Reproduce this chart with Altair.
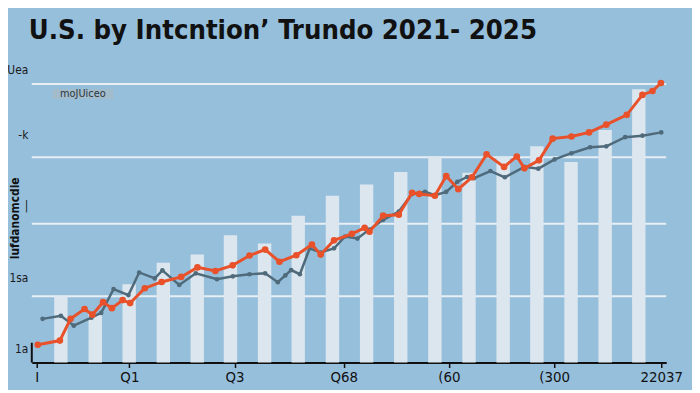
import altair as alt
import pandas as pd

TITLE = "U.S. by Intcntion\u2019 Trundo 2021- 2025"
Y_TITLE = "lufdanomcdie"
LEGEND_TEXT = "moJUiceo"

x_tick_values = [0, 8.9, 19.0, 29.5, 39.6, 49.7, 60]
x_tick_labels = ["I", "Q1", "Q3", "Q68", "(60", "(300", "22037"]
y_tick_values = [4.7, 28.7, 53.0, 76.7, 98.7]
y_tick_labels = ["1a", "1sa", "|", "-k", "Uea"]
grid_values = [22.3, 46.7, 69.0, 93.7]

bar_x = [2.32, 5.62, 8.88, 12.16, 15.42, 18.61, 21.89, 25.12, 28.41,
         31.69, 34.97, 38.25, 41.53, 44.81, 48.05, 51.33, 54.61, 57.84]
bar_y = [22.3, 16.3, 26.3, 33.6, 36.3, 42.8, 40.0, 49.4, 56.1,
         59.9, 64.1, 69.3, 63.8, 69.1, 72.7, 67.4, 78.2, 91.9]

orange_x = [0.1, 2.22, 3.25, 4.59, 5.34, 6.37, 7.22, 8.25, 8.97, 10.38, 12.0,
            13.87, 15.44, 17.16, 18.82, 20.44, 21.94, 23.32, 24.94, 26.44,
            27.28, 28.56, 30.28, 31.5, 31.97, 33.28, 34.78, 36.06, 36.75,
            38.25, 39.34, 40.5, 41.81, 43.22, 44.9, 46.12, 46.85, 48.25,
            49.56, 51.37, 53.06, 54.72, 56.69, 58.19, 59.16, 59.97]
orange_y = [6.0, 7.4, 14.7, 18.0, 16.1, 20.3, 18.3, 21.0, 20.0, 25.0, 27.1,
            28.8, 32.0, 30.8, 32.7, 36.0, 38.0, 33.9, 36.1, 39.7,
            36.3, 41.1, 43.3, 45.3, 44.0, 49.4, 49.7, 57.1, 56.7,
            56.1, 62.7, 58.3, 62.3, 70.0, 65.8, 69.3, 65.3, 68.0,
            75.3, 76.0, 77.4, 80.0, 83.3, 90.0, 91.3, 94.0]

slate_x = [0.56, 2.32, 3.56, 5.25, 6.19, 7.38, 8.81, 9.84, 11.34, 12.07,
           13.69, 15.28, 17.32, 18.84, 20.44, 21.94, 23.16, 23.88, 24.44,
           25.28, 26.22, 27.25, 28.56, 29.62, 30.81, 31.94, 33.28, 34.78,
           36.06, 37.31, 38.25, 39.34, 40.41, 41.34, 42.0, 43.59, 44.97,
           46.85, 48.19, 49.75, 51.37, 53.16, 54.72, 56.53, 58.19, 60.0]
slate_y = [14.7, 15.7, 12.4, 15.1, 16.7, 24.7, 22.7, 30.3, 28.3, 31.0,
           26.1, 30.0, 28.0, 29.0, 29.7, 30.0, 27.0, 29.3, 31.1,
           29.7, 38.4, 37.0, 38.4, 42.4, 41.7, 44.7, 48.0, 50.8,
           56.7, 57.4, 56.3, 57.4, 60.8, 62.4, 62.0, 64.4, 62.3,
           65.8, 65.2, 68.3, 70.4, 72.4, 72.7, 75.8, 76.3, 77.4]

BG = "#96bfdc"
BAR = "#dce6ee"
GRID = "#e7eff5"
ORANGE = "#e8512a"
SLATE = "#4f6a7a"
FONT = "DejaVu Sans Condensed, Roboto, sans-serif"


def label_expr(values, labels):
    expr = "''"
    for v, l in reversed(list(zip(values, labels))):
        expr = f"abs(datum.value - {v}) < 0.01 ? '{l}' : ({expr})"
    return expr


x_axis = alt.Axis(values=x_tick_values, labelExpr=label_expr(x_tick_values, x_tick_labels),
                  title=None, grid=False, domainColor="#111111", domainWidth=2,
                  tickColor="#111111", tickWidth=1.5, tickSize=5, labelFont=FONT,
                  labelFontSize=15, labelColor="#111111", labelPadding=2,
                  labelFlush=False, labelOverlap=False)
y_axis = alt.Axis(values=y_tick_values, labelExpr=label_expr(y_tick_values, y_tick_labels),
                  title=Y_TITLE, grid=False, domain=False, ticks=False,
                  labelFont=FONT, labelFontSize=12, labelColor="#1a1a1a", labelPadding=4,
                  labelOverlap=False,
                  titleFont=FONT, titleFontSize=12, titleFontWeight="bold",
                  titleColor="#111111", titleX=-17, titleY=154, titleAngle=270,
                  titleAlign="center", titleBaseline="middle")

xs = alt.Scale(domain=[0, 60], nice=False, zero=False)
ys = alt.Scale(domain=[0, 100], nice=False, zero=False)


def X():
    return alt.X("x:Q", scale=xs, axis=x_axis)


def Y():
    return alt.Y("y:Q", scale=ys, axis=y_axis)


bars_df = pd.DataFrame({"x": bar_x, "y": bar_y})
grid_df = pd.DataFrame({"y": grid_values})
orange_df = pd.DataFrame({"x": orange_x, "y": orange_y})
slate_df = pd.DataFrame({"x": slate_x, "y": slate_y})

grid = alt.Chart(grid_df).mark_rule(color=GRID, strokeWidth=2).encode(y=Y())
bars = alt.Chart(bars_df).mark_bar(color=BAR, width=13.5).encode(x=X(), y=Y())
slate = alt.Chart(slate_df).mark_line(
    color=SLATE, strokeWidth=2.5,
    point=alt.OverlayMarkDef(filled=True, size=22, color=SLATE)
).encode(x=X(), y=Y())
orange = alt.Chart(orange_df).mark_line(
    color=ORANGE, strokeWidth=3,
    point=alt.OverlayMarkDef(filled=True, size=45, color=ORANGE)
).encode(x=X(), y=Y())

legend_box = alt.Chart(pd.DataFrame({"t": [LEGEND_TEXT]})).mark_rect(
    color="#a3bccc"
).encode(x=alt.value(21), x2=alt.value(82), y=alt.value(24), y2=alt.value(34))
legend_text = alt.Chart(pd.DataFrame({"t": [LEGEND_TEXT]})).mark_text(
    font=FONT, fontSize=11, color="#2a3640", align="center", baseline="middle"
).encode(text="t:N", x=alt.value(51.5), y=alt.value(29.5))
y_stub = alt.Chart(pd.DataFrame({"t": [0]})).mark_rule(
    color="#111111", strokeWidth=2
).encode(x=alt.value(0), y=alt.value(280), y2=alt.value(300))

chart = alt.layer(grid, bars, slate, orange, legend_box, legend_text, y_stub).properties(
    width=640, height=300,
    padding={"left": 24, "top": 56, "right": 26, "bottom": 26},
    autosize=alt.AutoSizeParams(type="none"),
    background=BG,
    title=alt.Title(TITLE, anchor="start", frame="group", dx=-3, dy=24, offset=21,
                    baseline="alphabetic", font=FONT, fontSize=27.5,
                    fontWeight="bold", color="#111111"),
).configure_view(stroke=None)

chart.save("out.html", embed_options={"renderer": "svg", "actions": False})
